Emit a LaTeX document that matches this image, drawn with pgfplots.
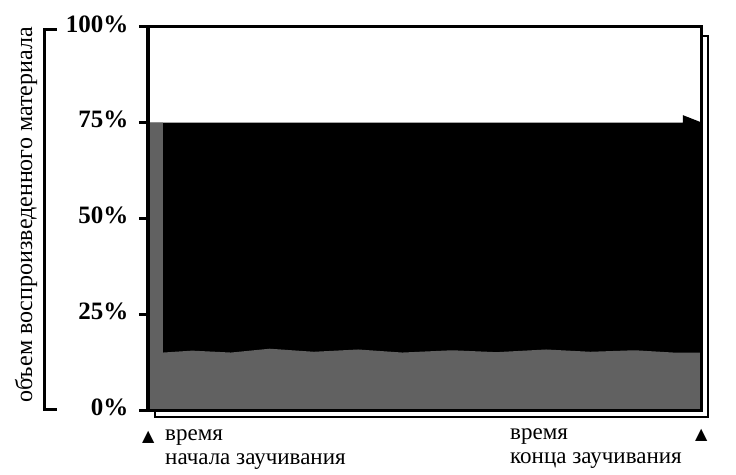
\documentclass[border=0pt]{standalone}
\usepackage{pgfplots}
\pgfplotsset{compat=1.18}
\usepackage{fontspec}
\setmainfont{Liberation Serif}
\newfontfamily\sym{DejaVu Sans}

\begin{document}
\begin{tikzpicture}[x=1pt,y=1pt]
\useasboundingbox (-148,-64) rectangle (588,410);
\begin{axis}[
    at={(0,0)}, anchor=south west,
    scale only axis,
    width=553pt, height=383pt,
    xmin=0, xmax=100, ymin=0, ymax=100,
    axis on top,
    separate axis lines,
    every outer x axis line/.append style={line width=3pt},
    every outer y axis line/.append style={line width=3pt},
    xtick=\empty,
    ytick={0,25,50,75,100},
    yticklabels={0\%,25\%,50\%,75\%,100\%},
    ytick pos=left,
    tick align=outside,
    major tick length=9pt,
    major tick style={line width=3pt, black},
    yticklabel style={font=\fontsize{25}{27}\selectfont\bfseries, yshift=3pt, xshift=-7pt},
]
% black area: remembered material
\addplot[fill=black, draw=none] coordinates {
    (0,75) (96.7,75) (96.7,77) (99.7,75.3) (100,75)
} \closedcycle;
% stippled area
\addplot[fill=black!62, draw=none] coordinates {
    (0,75) (2.7,75) (2.7,15) (8,15.5) (15,15) (22,16) (30,15.2) (38,15.8)
    (46,15) (55,15.6) (63,15.1) (72,15.8) (80,15.2) (88,15.6) (95,15) (100,15)
} \closedcycle;
\end{axis}
% frame
\draw[line width=3pt] (0,0) rectangle (553,383);
% y bracket and label
\draw[line width=3pt] (-91,380) -- (-103,380) -- (-103,1) -- (-91,1);
\node[rotate=90, font=\fontsize{24}{26}\selectfont] at (-122,195) {объем воспроизведенного материала};
% shadow of the frame
\draw[line width=2.5pt] (553,374) -- (560,374) -- (560,-7) -- (7,-7) -- (7,-2);
% bottom captions
\node[anchor=base west, inner sep=0pt, font=\fontsize{16}{16}\sym] at (-6,-31) {▲};
\node[anchor=base west, inner sep=0pt, font=\fontsize{23}{25}\selectfont] at (17,-30) {время};
\node[anchor=base west, inner sep=0pt, font=\fontsize{23}{25}\selectfont] at (17,-54) {начала заучивания};
\node[anchor=base west, inner sep=0pt, font=\fontsize{23}{25}\selectfont] at (362,-29) {время};
\node[anchor=base west, inner sep=0pt, font=\fontsize{23}{25}\selectfont] at (362,-53) {конца заучивания};
\node[anchor=base west, inner sep=0pt, font=\fontsize{16}{16}\sym] at (547,-29) {▲};
\end{tikzpicture}
\end{document}
